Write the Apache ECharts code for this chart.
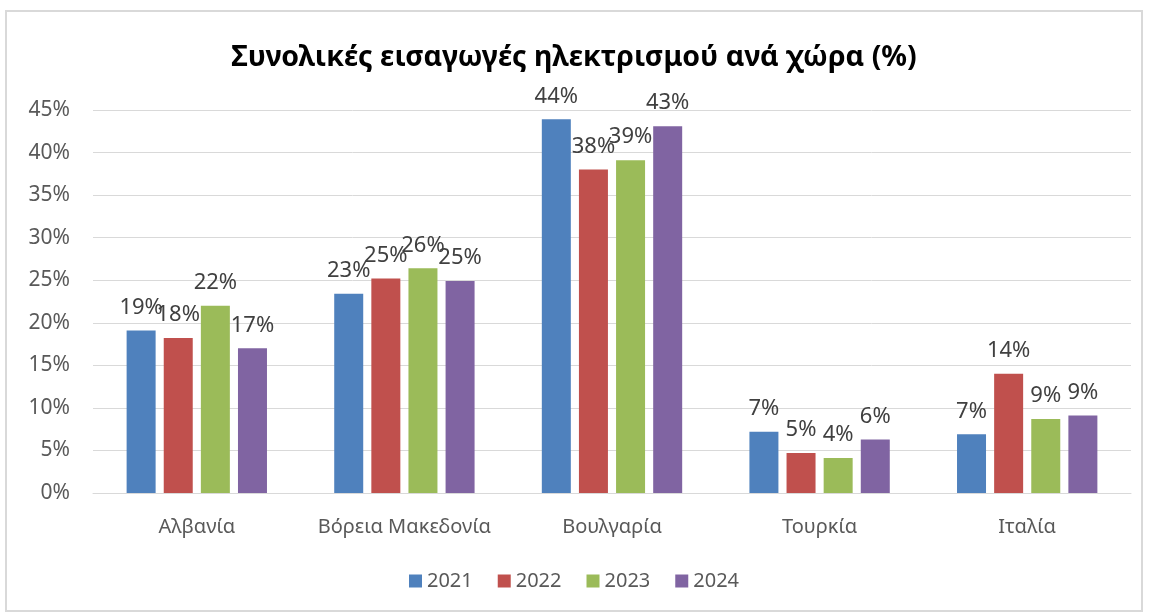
<!DOCTYPE html>
<html>
<head>
<meta charset="utf-8">
<script src="https://cdn.jsdelivr.net/npm/echarts@6/dist/echarts.min.js"></script>
<style>
  html, body { margin: 0; padding: 0; background: #fff; }
  #chart { position: absolute; left: 5px; top: 10px; width: 1138px; height: 602px; border: 2px solid #d9d9d9; box-sizing: border-box; }
</style>
</head>
<body>
<div id="chart"></div>
<script>
var countries = ["Αλβανία", "Βόρεια Μακεδονία", "Βουλγαρία", "Τουρκία", "Ιταλία"];
var years = ["2021", "2022", "2023", "2024"];
var colors = ["#4f81bd", "#c0504d", "#9bbb59", "#8064a2"];
// μερίδιο εισαγωγών ανά χώρα (%)
var v2021 = [19.1, 23.4, 43.9, 7.2, 6.9];
var v2022 = [18.2, 25.2, 38.0, 4.7, 14.0];
var v2023 = [22.0, 26.4, 39.1, 4.1, 8.7];
var v2024 = [17.0, 24.9, 43.1, 6.3, 9.1];
var yTicks = [0, 5, 10, 15, 20, 25, 30, 35, 40, 45];

var values = [v2021, v2022, v2023, v2024];
var font = "'Noto Sans', sans-serif";

var myChart = echarts.init(document.getElementById("chart"));
var option = {
  animation: false,
  title: {
    text: "Συνολικές εισαγωγές ηλεκτρισμού ανά χώρα (%)",
    left: "center",
    top: 26,
    textStyle: { fontFamily: font, fontSize: 28.5, fontWeight: "bold", color: "#000" },
  },
  legend: {
    data: years,
    bottom: 14,
    left: "center",
    itemWidth: 13,
    itemHeight: 13,
    itemGap: 25,
    icon: "rect",
    textStyle: { fontFamily: font, fontSize: 20, color: "#595959" },
  },
  grid: {
    left: 86,
    right: 10,
    top: 98,
    bottom: 117,
    containLabel: false,
  },
  xAxis: {
    type: "category",
    data: countries,
    axisLine: { lineStyle: { color: "#d9d9d9", width: 1 } },
    axisTick: { show: false },
    axisLabel: { interval: 0, fontFamily: font, fontSize: 20, color: "#595959", margin: 24 },
  },
  yAxis: {
    type: "value",
    min: yTicks[0],
    max: yTicks[yTicks.length - 1],
    interval: 5,
    axisLine: { show: false },
    axisTick: { show: false },
    splitLine: { lineStyle: { color: "#d9d9d9", width: 1 } },
    axisLabel: {
      fontFamily: font, fontSize: 21, color: "#595959", margin: 23,
      formatter: function (v) { return v + "%"; },
    },
  },
  series: years.map(function (y, i) {
    return {
      name: y,
      type: "bar",
      data: values[i],
      barWidth: 29,
      barGap: "28%",
      itemStyle: { color: colors[i] },
      label: {
        show: true,
        position: "top",
        distance: 12,
        fontFamily: font,
        fontSize: 22,
        color: "#404040",
        formatter: function (p) { return Math.round(p.value) + "%"; },
      },
    };
  }),
};
myChart.setOption(option);
</script>
</body>
</html>
